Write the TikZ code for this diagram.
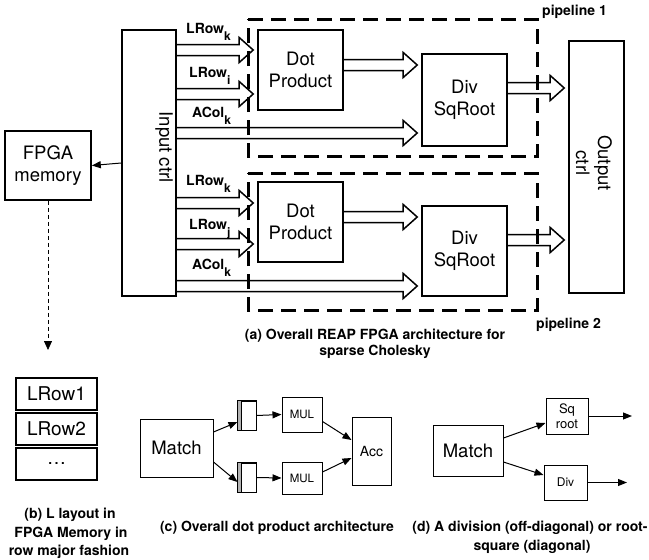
\documentclass[tikz,border=0pt]{standalone}
\usepackage{fontspec}
\setmainfont{TeX Gyre Heros}
\usetikzlibrary{arrows.meta,calc}
\newcommand\sfs[2]{\fontsize{#1}{#2}\selectfont}
\newcommand\subx[1]{\raisebox{-7pt}{\fontsize{12}{12}\selectfont\bfseries #1}}
\newcommand\blockarrow[2]{%
  \draw[barrow] let \p1=#1, \p2=#2 in
   (\x1,\y1+5.5pt) -- (\x2-18pt,\y1+5.5pt) -- (\x2-18pt,\y1+12.5pt) -- (\x2-4pt,\y1)
   -- (\x2-18pt,\y1-12.5pt) -- (\x2-18pt,\y1-5.5pt) -- (\x1,\y1-5.5pt);}
\begin{document}
\begin{tikzpicture}[x=1pt,y=-1pt,
  box/.style={draw, line width=1.6pt, inner sep=0pt, align=center, font=\sfs{18.5}{22}},
  sbox/.style={draw, line width=1pt, inner sep=0pt, align=center},
  barrow/.style={line width=1.5pt, line join=miter},
  pipebox/.style={line width=3pt, dash pattern=on 15pt off 8pt},
  lbl/.style={font=\sfs{14}{16}\bfseries, anchor=base west, inner sep=0pt},
  captxt/.style={font=\sfs{14}{18}\bfseries, anchor=base, inner sep=0pt},
  sarr/.style={line width=1pt, -{Triangle[length=9pt,width=7pt]}}]
\useasboundingbox (0,0) rectangle (649,560);

% ---------- (a) architecture ----------
\node[box, minimum width=86, minimum height=69] (fm) at (48,165.5) {FPGA\\memory};
\node[box, minimum width=54, minimum height=266] (ic) at (149,163) {};
\node[font=\sfs{18.5}{22}, rotate=-90, inner sep=0pt] (ict) at (164,147) {Input ctrl};
\node[box, minimum width=85, minimum height=80] (dp1) at (300.5,70) {Dot\\Product};
\node[box, minimum width=85, minimum height=80] (dp2) at (300.5,222) {Dot\\Product};
\node[box, minimum width=85, minimum height=92] (dv1) at (464.5,100) {Div\\SqRoot};
\node[box, minimum width=85, minimum height=90] (dv2) at (464.5,251) {Div\\SqRoot};
\node[box, minimum width=55, minimum height=252] (oc) at (596.5,167) {};
\node[font=\sfs{18.5}{22}, rotate=-90, align=center, inner sep=0pt] (oct) at (594,163) {Output\\ctrl};

\draw[sarr] (ic.west) -- (fm.east);

% y levels
\coordinate (yk1) at (0,50);  \coordinate (yi1) at (0,94);  \coordinate (ya1) at (0,133);
\coordinate (yd1) at (0,65);  \coordinate (yo1) at (0,88);
\coordinate (yk2) at (0,203); \coordinate (yj2) at (0,244); \coordinate (ya2) at (0,286);
\coordinate (yd2) at (0,217); \coordinate (yo2) at (0,240);

\blockarrow{(ic.east|-yk1)}{(dp1.west|-yk1)}
\blockarrow{(ic.east|-yi1)}{(dp1.west|-yi1)}
\blockarrow{(ic.east|-ya1)}{(dv1.west|-ya1)}
\blockarrow{(dp1.east|-yd1)}{(dv1.west|-yd1)}
\blockarrow{(dv1.east|-yo1)}{(oc.west|-yo1)}
\blockarrow{(ic.east|-yk2)}{(dp2.west|-yk2)}
\blockarrow{(ic.east|-yj2)}{(dp2.west|-yj2)}
\blockarrow{(ic.east|-ya2)}{(dv2.west|-ya2)}
\blockarrow{(dp2.east|-yd2)}{(dv2.west|-yd2)}
\blockarrow{(dv2.east|-yo2)}{(oc.west|-yo2)}

\draw[pipebox] (248,19) -- (537,19) -- (537,156) -- (248,156) -- cycle;
\draw[pipebox] (248,173) -- (537,173) -- (537,310) -- (248,310) -- cycle;

\node[lbl] (l1) at (186,33) {LRow\subx{k}};
\node[lbl] (l2) at (189,77) {LRow\subx{i}};
\node[lbl] (l3) at (192,117) {ACol\subx{k}};
\node[lbl] (l4) at (186,185) {LRow\subx{k}};
\node[lbl] (l5) at (189,229) {LRow\subx{j}};
\node[lbl] (l6) at (192,269) {ACol\subx{k}};

\node[lbl] (pl1) at (542,15) {pipeline 1};
\node[lbl] (pl2) at (536,328) {pipeline 2};
\node[captxt] (ca1) at (375,339) {(a) Overall REAP FPGA architecture for};
\node[captxt] (ca2) at (375,355) {sparse Cholesky};

% ---------- (b) memory layout ----------
\coordinate (memend) at (48,350);
\draw[line width=0.8pt, dash pattern=on 4pt off 3pt, -{Triangle[length=9pt,width=8pt]}] (fm.south) -- (memend);
\node[sbox, line width=1.2pt, minimum width=81, minimum height=32, font=\sfs{19}{22}] (r1) at (56.5,394) {LRow1};
\node[sbox, line width=1.2pt, minimum width=81, minimum height=32, font=\sfs{19}{22}] (r2) at (56.5,429) {LRow2};
\node[sbox, line width=1.2pt, minimum width=81, minimum height=32, font=\sfs{19}{22}] (r3) at (56.5,464) {…};
\node[captxt] (cb1) at (70,518) {(b) L layout in};
\node[captxt] (cb2) at (71,537) {FPGA Memory in};
\node[captxt] (cb3) at (69,555) {row major fashion};

% ---------- (c) dot product ----------
\node[sbox, minimum width=73, minimum height=58, font=\sfs{18.5}{22}] (m1) at (176.5,448) {Match};
\node[sbox, minimum width=18, minimum height=29] (rg1) at (247,415.5) {};
\node[sbox, minimum width=18, minimum height=29] (rg2) at (247,477.5) {};
\fill[gray!60] (rg1.north west) rectangle ($(rg1.south west)+(4,0)$);
\fill[gray!60] (rg2.north west) rectangle ($(rg2.south west)+(4,0)$);
\draw[line width=1pt] (rg1.north west) rectangle (rg1.south east);
\draw[line width=1pt] (rg2.north west) rectangle (rg2.south east);
\draw[line width=1pt] ($(rg1.north west)+(4,0)$) -- ($(rg1.south west)+(4,0)$);
\draw[line width=1pt] ($(rg2.north west)+(4,0)$) -- ($(rg2.south west)+(4,0)$);
\node[sbox, minimum width=40, minimum height=35, font=\sfs{11.5}{13}] (mu1) at (302,414.5) {MUL};
\node[sbox, minimum width=40, minimum height=32, font=\sfs{11.5}{13}] (mu2) at (302,478) {MUL};
\node[sbox, minimum width=39, minimum height=68, font=\sfs{14}{16}] (acc) at (371.5,451) {Acc};
\draw[sarr] ($(m1.east)+(0,-16)$) -- ($(rg1.west)+(0,6.5)$);
\draw[sarr] ($(m1.east)+(0,14)$) -- ($(rg2.west)+(0,4.5)$);
\draw[sarr] (rg1.east) -- (mu1.west);
\draw[sarr] (rg2.east) -- (mu2.west);
\draw[sarr] ($(mu1.east)+(0,7)$) -- ($(acc.west)+(0,-11)$);
\draw[sarr] ($(mu2.east)+(0,-6)$) -- ($(acc.west)+(0,7)$);
\node[captxt] (cc) at (277,531) {(c) Overall dot product architecture};

% ---------- (d) div / sqrt ----------
\node[sbox, minimum width=70, minimum height=51, font=\sfs{18.5}{22}] (m2) at (468,450.5) {Match};
\node[sbox, minimum width=42, minimum height=36, font=\sfs{13}{15}] (sq) at (567,416) {Sq\\root};
\node[sbox, minimum width=43, minimum height=35, font=\sfs{12}{14}] (dv) at (565.5,482.5) {Div};
\coordinate (sqo) at (632,416);
\coordinate (dvo) at (627,482.5);
\draw[sarr] ($(m2.east)+(0,-12.5)$) -- ($(sq.west)+(0,7)$);
\draw[sarr] ($(m2.east)+(0,11.5)$) -- ($(dv.west)+(0,-7.5)$);
\draw[sarr] (sq.east) -- (sqo);
\draw[sarr] (dv.east) -- (dvo);
\node[captxt] (cd1) at (530,531) {(d) A division (off-diagonal) or root-};
\node[captxt] (cd2) at (532,550) {square (diagonal)};
\end{tikzpicture}
\end{document}
